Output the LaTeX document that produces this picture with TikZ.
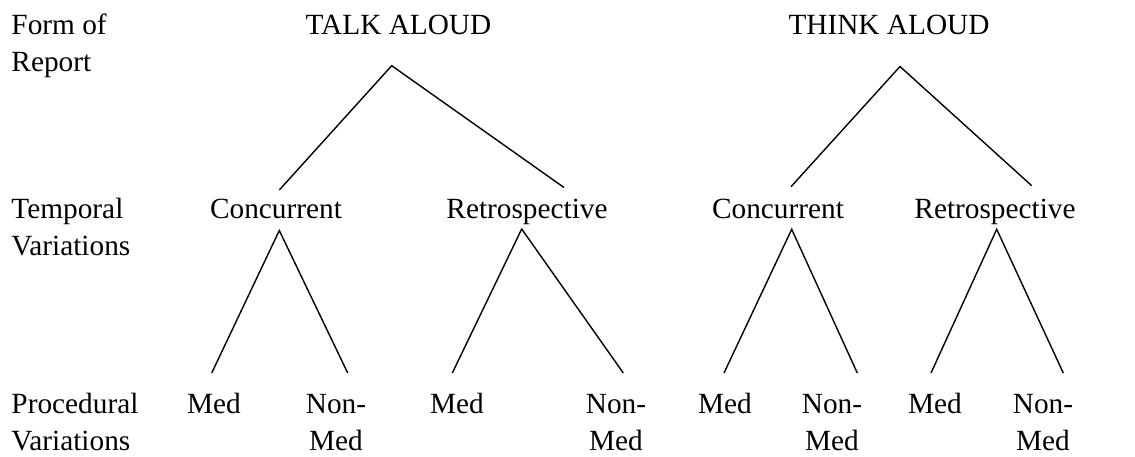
\documentclass[tikz,border=0pt]{standalone}
\usepackage{fontspec}
\setmainfont{Liberation Serif}
\begin{document}
\begin{tikzpicture}[x=1pt,y=-1pt,
  lbl/.style={inner sep=0pt,outer sep=0pt,font=\fontsize{29.3}{37}\selectfont},
  cat/.style={lbl,anchor=base},
  side/.style={lbl,anchor=base west,align=left},
  two/.style={lbl,anchor=base,align=center},
  edge/.style={line width=1.4pt,line cap=butt}]
\useasboundingbox (0,0) rectangle (1135,457);
% row labels (base anchor = baseline of the last line)
\node[side] (formlbl) at (11.5,72) {Form of\\Report};
\node[side] (templbl) at (11.5,255.5) {Temporal\\Variations};
\node[side] (proclbl) at (11.5,450.5) {Procedural\\Variations};
% level 1
\node[cat] (talk) at (398.5,35) {TALK ALOUD};
\node[cat] (think) at (889,35) {THINK ALOUD};
% level 2
\node[cat] (conA) at (276,218.5) {Concurrent};
\node[cat] (retA) at (527,218.5) {Retrospective};
\node[cat] (conB) at (778,218.5) {Concurrent};
\node[cat] (retB) at (995,218.5) {Retrospective};
% level 3
\node[cat] (medA) at (214,413.5) {Med};
\node[two] (nonA) at (336,450.5) {Non-\\Med};
\node[cat] (medB) at (457,413.5) {Med};
\node[two] (nonB) at (616,450.5) {Non-\\Med};
\node[cat] (medC) at (725,413.5) {Med};
\node[two] (nonC) at (832,450.5) {Non-\\Med};
\node[cat] (medD) at (935,413.5) {Med};
\node[two] (nonD) at (1043,450.5) {Non-\\Med};
% connector end points
\coordinate (talkT) at (391.7,65.7);
\coordinate (conAin) at (279.3,190);
\coordinate (retAin) at (564,187.5);
\coordinate (thinkT) at (900,66.5);
\coordinate (conBin) at (791,186.7);
\coordinate (retBin) at (1031.7,185.7);
\coordinate (conAT) at (279.3,230.5);
\coordinate (medAin) at (211.7,373);
\coordinate (nonAin) at (347.7,373);
\coordinate (retAT) at (521.7,229);
\coordinate (medBin) at (452.3,373);
\coordinate (nonBin) at (623.3,373);
\coordinate (conBT) at (791.7,229.3);
\coordinate (medCin) at (724,373);
\coordinate (nonCin) at (857.3,373);
\coordinate (retBT) at (996.7,229.3);
\coordinate (medDin) at (931,373);
\coordinate (nonDin) at (1063.3,373);
% connectors
\draw[edge] (conAin) -- (talkT) -- (retAin);
\draw[edge] (conBin) -- (thinkT) -- (retBin);
\draw[edge] (medAin) -- (conAT) -- (nonAin);
\draw[edge] (medBin) -- (retAT) -- (nonBin);
\draw[edge] (medCin) -- (conBT) -- (nonCin);
\draw[edge] (medDin) -- (retBT) -- (nonDin);
\end{tikzpicture}
\end{document}
